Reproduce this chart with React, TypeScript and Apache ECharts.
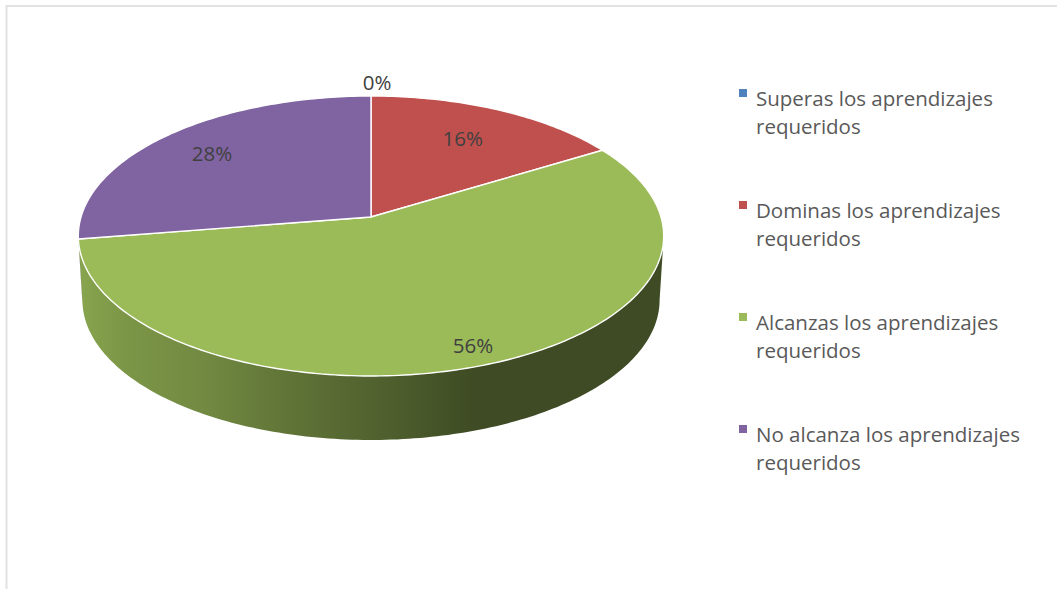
import React, { useEffect, useRef } from "react";
import * as echarts from "echarts";

const categories = [
  "Superas los aprendizajes requeridos",
  "Dominas los aprendizajes requeridos",
  "Alcanzas los aprendizajes requeridos",
  "No alcanza los aprendizajes requeridos",
];
const percentages = [0, 16.3, 56.2, 27.5];
const sliceColors = ["#4f81bd", "#c0504d", "#9bbb59", "#8064a2"];

// layout of the tilted disc
const CX = 371;
const CY = 217;
const RX = 290;
const RY = 137.4;
const TILT = 0.1357;
const DEPTH = 64;
const BOTTOM_SCALE = 0.986;
const LABEL_RADIUS = [1.135, 0.715, 0.88, 0.77];
const LABEL_SHIFT = [6, -2, 3, 0];
const FONT = '"Open Sans", sans-serif';
const FONT_SIZE = 20.5;

const total = percentages.reduce((a, b) => a + b, 0);
const starts = percentages.map((_, i) =>
  percentages.slice(0, i).reduce((a, b) => a + b, 0)
);
const toAngle = (v: number) => (v / total) * Math.PI * 2;

function project(t: number, r = 1, dy = 0, sx = 1): number[] {
  const u = Math.sin(t) * r;
  const v = -Math.cos(t) * r;
  const d = 1 - TILT * v;
  return [CX + (RX * sx * u) / d, CY + (RY * v) / d + dy];
}

function arcPoints(a: number, b: number, dy = 0, sx = 1): number[][] {
  const pts: number[][] = [];
  const n = Math.max(1, Math.ceil(((b - a) / Math.PI) * 180));
  for (let i = 0; i <= n; i++) pts.push(project(a + ((b - a) * i) / n, 1, dy, sx));
  return pts;
}

function mix(hex: string, f: number): string {
  const c = echarts.color.parse(hex) as number[];
  return `rgb(${Math.round(c[0] * f)},${Math.round(c[1] * f)},${Math.round(c[2] * f)})`;
}

function wallFill(hex: string) {
  return new echarts.graphic.LinearGradient(
    78,
    0,
    662,
    0,
    [
      { offset: 0, color: mix(hex, 0.88) },
      { offset: 0.08, color: mix(hex, 0.8) },
      { offset: 0.22, color: mix(hex, 0.73) },
      { offset: 0.36, color: mix(hex, 0.62) },
      { offset: 0.5, color: mix(hex, 0.53) },
      { offset: 0.68, color: mix(hex, 0.4) },
      { offset: 1, color: mix(hex, 0.4) },
    ],
    true
  );
}

const WALL_FROM = Math.acos(-TILT);
const WALL_TO = Math.PI * 2 - WALL_FROM;

function renderWall(params: any, api: any) {
  const a = Math.max(toAngle(api.value(0)), WALL_FROM);
  const b = Math.min(toAngle(api.value(1)), WALL_TO);
  if (b <= a) return { type: "group", children: [] };
  const top = arcPoints(a, b);
  const bottom = arcPoints(a, b, DEPTH, BOTTOM_SCALE).reverse();
  return {
    type: "polygon",
    shape: { points: top.concat(bottom) },
    style: { fill: wallFill(sliceColors[params.dataIndex]) },
    silent: true,
  };
}

function renderTop(index: number) {
  return (_params: any, api: any) => {
    const s = api.value(0);
    const e = api.value(1);
    const a = toAngle(s);
    const b = toAngle(e);
    const centre = [CX, CY];
    const mid = project((a + b) / 2, LABEL_RADIUS[index]);
    return {
      type: "group",
      children: [
        {
          type: "polygon",
          shape: { points: [centre, ...arcPoints(a, b)] },
          style: {
            fill: sliceColors[index],
            stroke: "#ffffff",
            lineWidth: 1.4,
            lineJoin: "round",
          },
        },
        {
          type: "text",
          z2: 10,
          style: {
            text: `${Math.round(api.value(2))}%`,
            x: mid[0] + LABEL_SHIFT[index],
            y: mid[1],
            align: "center",
            verticalAlign: "middle",
            fill: "#404040",
            font: `${FONT_SIZE}px ${FONT}`,
          },
        },
      ],
    };
  };
}

const LEGEND_ICON = "path://M0 5H8V13H0Z M0 0L0 0 M0 56L0 56";

export default function App() {
  const ref = useRef<HTMLDivElement>(null);
  useEffect(() => {
    if (!ref.current) return;
    const chart = echarts.init(ref.current, undefined, { renderer: "svg" });
    chart.setOption({
      animation: false,
      backgroundColor: "#ffffff",
      legend: {
        orient: "vertical",
        left: 739,
        top: 84,
        itemWidth: 8,
        itemHeight: 56,
        itemGap: 56,
        padding: 0,
        selectedMode: false,
        icon: LEGEND_ICON,
        data: categories,
        formatter: (n: string) => n.replace(" requeridos", "\nrequeridos"),
        textStyle: {
          color: "#595959",
          fontFamily: FONT,
          fontSize: FONT_SIZE,
          lineHeight: 28,
          padding: [0, 0, 0, 4],
        },
      },
      graphic: [
        {
          type: "polyline",
          shape: { points: [[6.5, 589], [6.5, 6], [1057, 6]] },
          style: { stroke: "#e2e2e2", lineWidth: 2, fill: "none" },
          silent: true,
        },
      ],
      series: [
        {
          type: "custom",
          name: "wall",
          coordinateSystem: "none",
          renderItem: renderWall,
          silent: true,
          data: percentages.map((v, i) => [starts[i], starts[i] + v, v]),
        },
        ...categories.map((name, i) => ({
          type: "custom",
          name,
          coordinateSystem: "none",
          itemStyle: { color: sliceColors[i] },
          renderItem: renderTop(i),
          data: [[starts[i], starts[i] + percentages[i], percentages[i]]],
        })),
      ],
    });
    return () => chart.dispose();
  }, []);
  return (
    <div
      ref={ref}
      style={{ position: "fixed", left: 0, top: 0, width: 1057, height: 589 }}
    />
  );
}
